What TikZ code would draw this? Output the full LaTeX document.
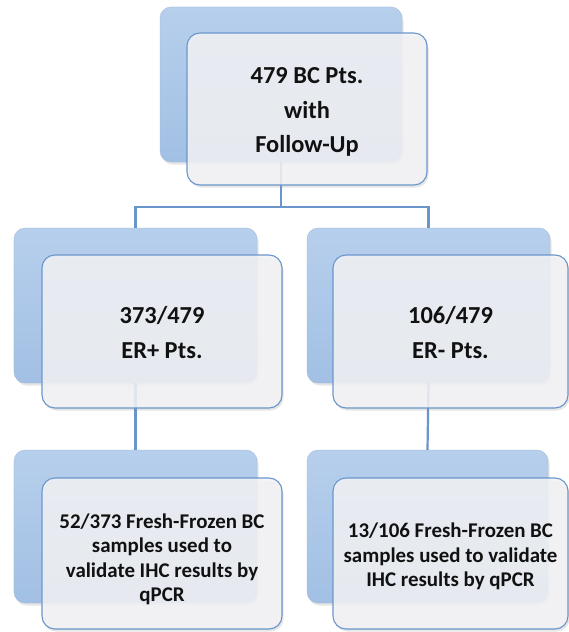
\documentclass[tikz,border=0pt]{standalone}
\usepackage{fontspec}
\setmainfont{Carlito}
\usetikzlibrary{shadows}
\definecolor{backtop}{HTML}{B6CFEC}
\definecolor{backbot}{HTML}{A2C0E4}
\definecolor{frontfill}{HTML}{F3F4F6}
\definecolor{edgeblue}{HTML}{6B96CB}
\definecolor{linkblue}{HTML}{6A95CA}
\definecolor{txt}{HTML}{111111}
\tikzset{
  x=1bp, y=-1bp,
  backbox/.style={rectangle, rounded corners=11bp, inner sep=0pt,
    top color=backtop, bottom color=backbot, draw=backbot!85!gray, line width=0.3bp,
    drop shadow={opacity=0.2, shadow xshift=1.5bp, shadow yshift=-2.5bp}},
  frontbox/.style={rectangle, rounded corners=13bp, inner sep=0pt,
    fill=frontfill, fill opacity=0.86, text opacity=1, draw=edgeblue, line width=1.1bp,
    drop shadow={opacity=0.2, shadow xshift=1.5bp, shadow yshift=-2.5bp}},
  bigtxt/.style={font=\bfseries\fontsize{24.5}{35}\selectfont, text=txt, align=center},
  smalltxt/.style={font=\bfseries\fontsize{21}{24.5}\selectfont, text=txt, align=center},
  link/.style={draw=linkblue, line width=2.2bp}
}
\begin{document}
\begin{tikzpicture}
\useasboundingbox (0,0) rectangle (569,632);
\fill[white] (0,0) rectangle (569,632);
% back boxes
\node[backbox, minimum width=242bp, minimum height=155bp] (tb) at (281,84.5) {};
\node[backbox, minimum width=243bp, minimum height=155bp] (mlb) at (135.5,305.5) {};
\node[backbox, minimum width=243bp, minimum height=155bp] (mrb) at (428.5,305.5) {};
\node[backbox, minimum width=243bp, minimum height=153bp] (llb) at (135.5,526.5) {};
\node[backbox, minimum width=241bp, minimum height=153bp] (lrb) at (427.5,526.5) {};
% connectors
\coordinate (bus) at (0,207);
\draw[link] (tb.south) -- (tb.south |- bus);
\draw[link] (mlb.north) -- (mlb.north |- bus) -| (mrb.north);
\draw[link] (mlb.south) -- (llb.north);
\draw[link] (mrb.south) -- (lrb.north);
% front boxes
\node[frontbox, minimum width=240bp, minimum height=152bp] (tf) at (307,109) {};
\node[frontbox, minimum width=240bp, minimum height=153bp] (mlf) at (162,331.5) {};
\node[frontbox, minimum width=235bp, minimum height=153bp] (mrf) at (450.5,331.5) {};
\node[frontbox, minimum width=240bp, minimum height=151bp] (llf) at (162,553.5) {};
\node[frontbox, minimum width=235bp, minimum height=151bp] (lrf) at (450.5,553.5) {};
% texts
\node[bigtxt] (tt) at ([yshift=-3bp]tf.center) {479 BC Pts.\\with\\Follow-Up};
\node[bigtxt] (mlt) at ([yshift=-1bp]mlf.center) {373/479\\ER+ Pts.};
\node[bigtxt] (mrt) at ([yshift=-1bp]mrf.center) {106/479\\ER- Pts.};
\node[smalltxt] (llt) at ([yshift=-6bp]llf.center) {52/373 Fresh-Frozen BC\\samples used to\\validate IHC results by\\qPCR};
\node[smalltxt] (lrt) at ([yshift=-3bp]lrf.center) {13/106 Fresh-Frozen BC\\samples used to validate\\IHC results by qPCR};
\end{tikzpicture}
\end{document}
